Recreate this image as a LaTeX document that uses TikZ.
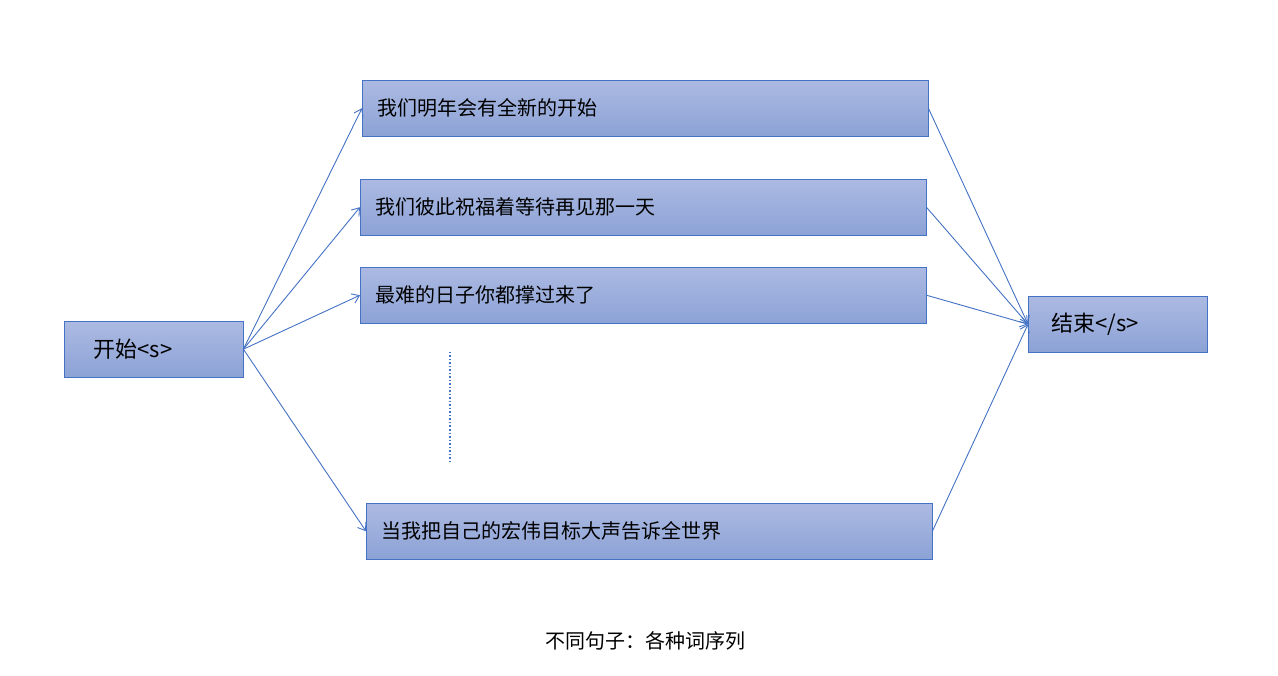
\documentclass[tikz,border=0pt]{standalone}
\usepackage{fontspec}
\newfontfamily\cjk{Noto Sans CJK SC}
\usetikzlibrary{arrows.meta}
\definecolor{bd}{HTML}{4472C4}
\definecolor{ftop}{RGB}{172,186,226}
\definecolor{fbot}{RGB}{140,162,214}
\begin{document}
\begin{tikzpicture}[x=1pt,y=-1pt,
  box/.style={draw=bd,top color=ftop,bottom color=fbot,inner sep=0,anchor=north west},
  lbl/.style={font=\cjk\fontsize{20}{24}\selectfont,anchor=west},
  arr/.style={draw=bd,line width=0.9pt,-{Straight Barb[length=7pt,width=10pt]}}]
\useasboundingbox (0,0) rectangle (1278,676);
\node[box,minimum width=566pt,minimum height=56pt] (b1) at (362,80) {};
\node[box,minimum width=566pt,minimum height=56pt] (b2) at (360,179) {};
\node[box,minimum width=566pt,minimum height=56pt] (b3) at (360,267) {};
\node[box,minimum width=566pt,minimum height=56pt] (b4) at (366,503) {};
\node[box,minimum width=179pt,minimum height=56pt] (s) at (64,321) {};
\node[box,minimum width=179pt,minimum height=56pt] (e) at (1028,296) {};
\node[lbl] (t1) at (374,108) {我们明年会有全新的开始};
\node[lbl] (t2) at (372,207) {我们彼此祝福着等待再见那一天};
\node[lbl] (t3) at (372,295) {最难的日子你都撑过来了};
\node[lbl] (t4) at (378,531) {当我把自己的宏伟目标大声告诉全世界};
\node[lbl,font=\cjk\fontsize{22}{26}\selectfont] (ts) at (90,349) {开始<s>};
\node[lbl,font=\cjk\fontsize{22}{26}\selectfont] (te) at (1048,324) {结束</s>};
\foreach \b in {b1,b2,b3,b4} \draw[arr] (s.east) -- (\b.west);
\foreach \b in {b1,b2,b3,b4} \draw[arr] (\b.east) -- (e.west);
\coordinate (d1) at (450,352); \coordinate (d2) at (450,462);
\draw[bd,line width=2.2pt,dash pattern=on 1.5pt off 2pt] (d1) -- (d2);
\node[font=\cjk\fontsize{20}{24}\selectfont] (cap) at (645,641) {不同句子：各种词序列};
\end{tikzpicture}
\end{document}
